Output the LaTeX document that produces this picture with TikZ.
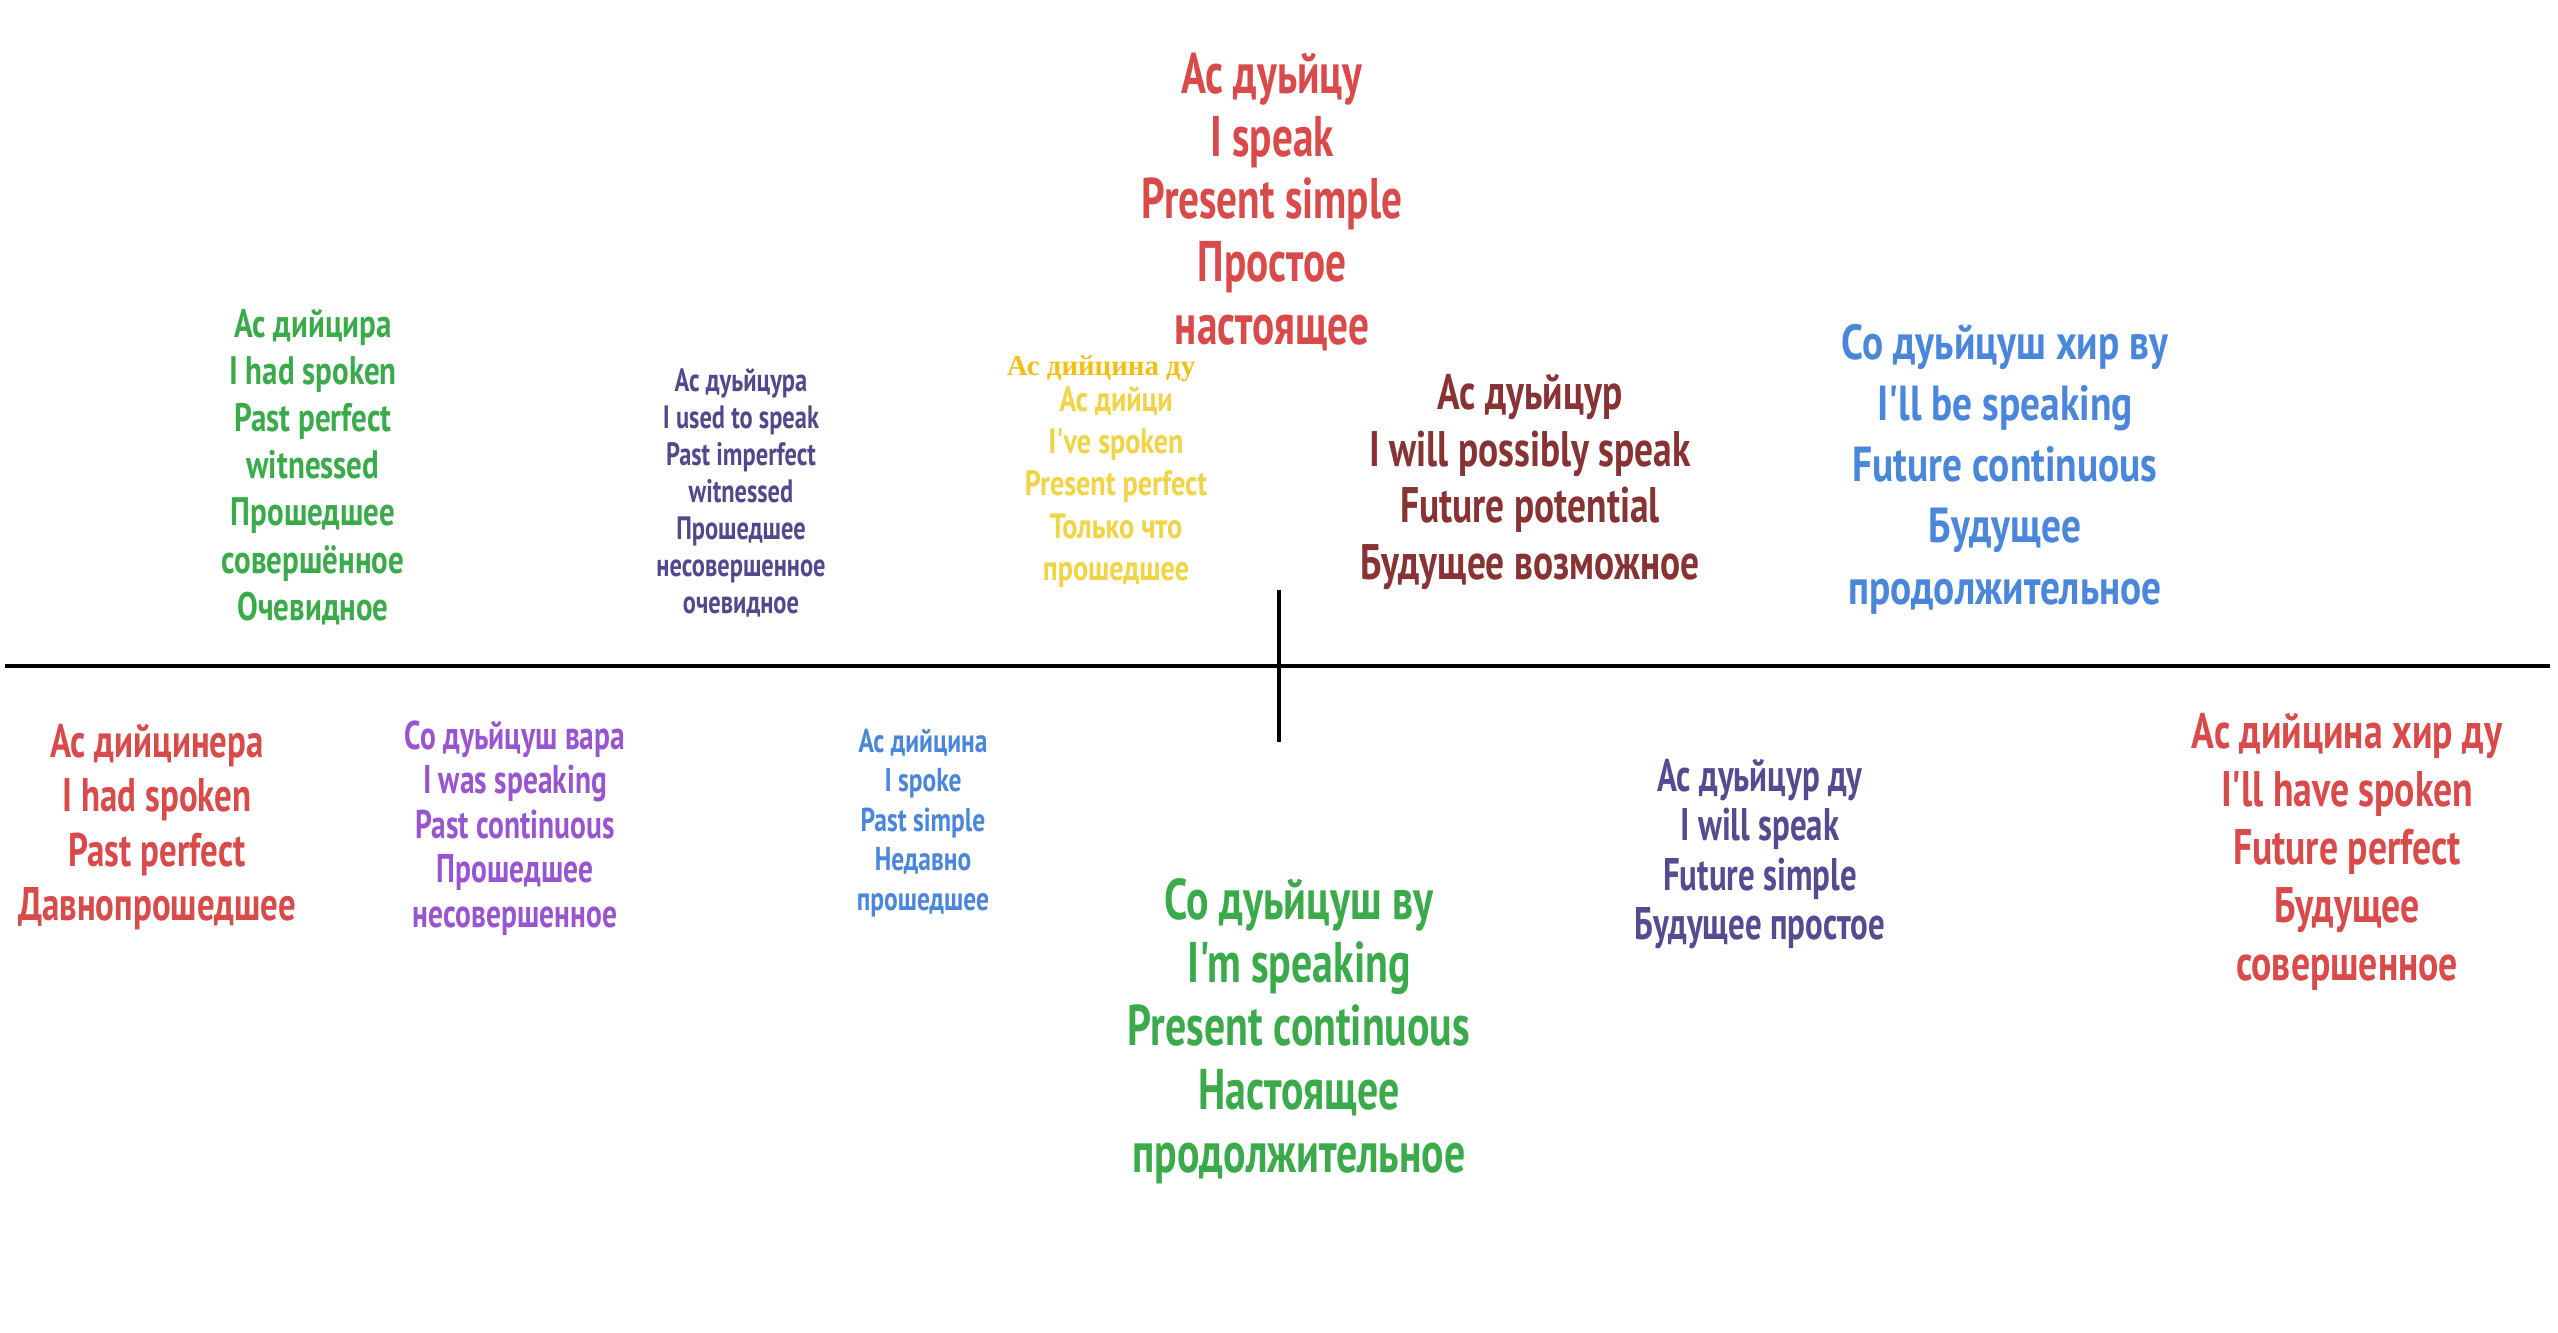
\documentclass[tikz,border=0pt]{standalone}
\usepackage{fontspec}
\setmainfont{PT Sans}[FakeStretch=0.72]
\newfontfamily\yelserif{Liberation Serif}

\definecolor{tred}{HTML}{D94A4A}
\definecolor{tgreen}{HTML}{3BAA4B}
\definecolor{tindigo}{HTML}{504A8C}
\definecolor{tyellow}{HTML}{F0D445}
\definecolor{tgold}{HTML}{F5BE14}
\definecolor{tmaroon}{HTML}{873333}
\definecolor{tblue}{HTML}{4A86D9}
\definecolor{tviolet}{HTML}{9955D0}
\definecolor{tslate}{HTML}{554B91}

% size, line skip, horizontal stretch
\newcommand{\tsize}[3]{\fontspec{PT Sans}[FakeStretch=#3]\fontsize{#1}{#2}\selectfont\bfseries}

\tikzset{
  tense/.style={align=center,inner sep=0pt},
  axisline/.style={line width=1.4pt,black}
}

\begin{document}
\begin{tikzpicture}[x=0.01cm,y=-0.01cm]

    \fill[white] (0,0) rectangle (2558,1332);
    \useasboundingbox (0,0) rectangle (2558,1332);

    % time line and the present
    \coordinate (past) at (5,666);
    \coordinate (future) at (2550,666);
    \coordinate (nowtop) at (1279,590);
    \coordinate (nowbot) at (1279,742);
    \draw[axisline] (past)--(future);
    \draw[axisline] (nowtop)--(nowbot);

    % above the line
    \node[tense,text=tred,font=\tsize{16.3}{17.9}{0.72}] (presimple) at (1272,202)
        {Ас дуьйцу\\I speak\\Present simple\\Простое\\настоящее};
    \node[tense,text=tgreen,font=\tsize{11.3}{13.4}{0.78}] (pastperfw) at (313,467)
        {Ас дийцира\\I had spoken\\Past perfect\\witnessed\\Прошедшее\\совершённое\\Очевидное};
    \node[tense,text=tindigo,font=\tsize{9.2}{10.5}{0.755}] (pastimpw) at (741,493)
        {Ас дуьйцура\\I used to speak\\Past imperfect\\witnessed\\Прошедшее\\несовершенное\\очевидное};
    \node[tense,text=tgold,font={\yelserif\bfseries\fontsize{8.2}{9}\selectfont}] (preperfalt) at (1101,369)
        {Ас дийцина ду};
    \node[tense,text=tyellow,font=\tsize{10}{12}{0.8}] (preperf) at (1116,487)
        {Ас дийци\\I've spoken\\Present perfect\\Только что\\прошедшее};
    \node[tense,text=tmaroon,font=\tsize{14.2}{16.2}{0.75}] (futpot) at (1530,482)
        {Ас дуьйцур\\I will possibly speak\\Future potential\\Будущее возможное};
    \node[tense,text=tblue,font=\tsize{14}{17.4}{0.8}] (futcont) at (2005,469)
        {Со дуьйцуш хир ву\\I'll be speaking\\Future continuous\\Будущее\\продолжительное};

    % below the line
    \node[tense,text=tred,font=\tsize{13.4}{15.4}{0.74}] (plupf) at (157,827)
        {Ас дийцинера\\I had spoken\\Past perfect\\Давнопрошедшее};
    \node[tense,text=tviolet,font=\tsize{11.4}{12.7}{0.735}] (pastcont) at (515,828)
        {Со дуьйцуш вара\\I was speaking\\Past continuous\\Прошедшее\\несовершенное};
    \node[tense,text=tblue,font=\tsize{9.4}{11.2}{0.77}] (pastsimple) at (923,823)
        {Ас дийцина\\I spoke\\Past simple\\Недавно\\прошедшее};
    \node[tense,text=tgreen,font=\tsize{16.3}{18}{0.73}] (precont) at (1299,1031)
        {Со дуьйцуш ву\\I'm speaking\\Present continuous\\Настоящее\\продолжительное};
    \node[tense,text=tslate,font=\tsize{13}{14.1}{0.72}] (futsimple) at (1760,854)
        {Ас дуьйцур ду\\I will speak\\Future simple\\Будущее простое};
    \node[tense,text=tred,font=\tsize{14.2}{16.5}{0.755}] (futperf) at (2347,852)
        {Ас дийцина хир ду\\I'll have spoken\\Future perfect\\Будущее\\совершенное};

\end{tikzpicture}
\end{document}
